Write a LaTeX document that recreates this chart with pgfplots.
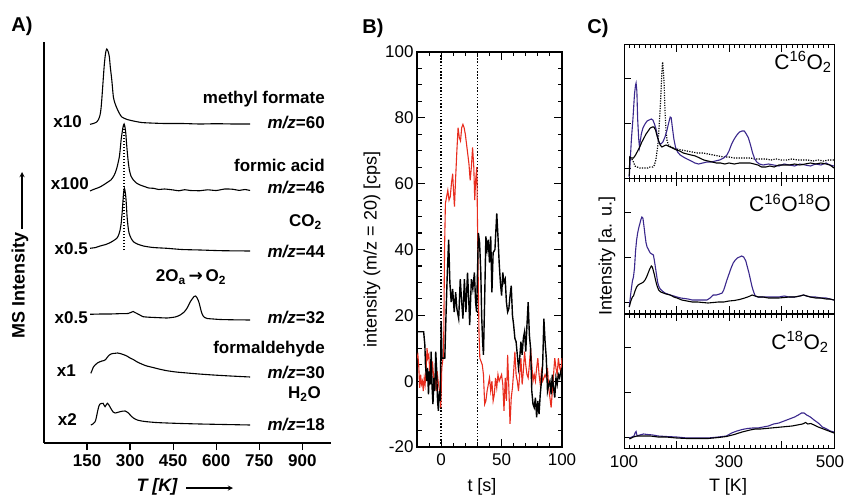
\documentclass[border=0pt]{standalone}
\usepackage{pgfplots}
\pgfplotsset{compat=1.18}
\usepackage{fontspec}
\setmainfont{Liberation Sans}
\newfontfamily\dejavu{DejaVu Sans}
\definecolor{bred}{RGB}{232,45,30}
\definecolor{cblue}{RGB}{58,40,140}
\newcommand\fs[1]{\fontsize{#1}{#1}\selectfont}
\pgfplotsset{
 cpanel/.style={anchor=south west, scale only axis, width=210pt, height=134pt,
   xmin=100, xmax=500, ymin=0, ymax=134,
   xtick={100,200,300,400,500}, minor x tick num=9, xticklabels={},
   ytick={11,56,101}, yticklabels={}, ytick pos=left,
   tick align=inside, major tick length=7pt, minor tick length=3.5pt,
   axis line style={line width=1pt}, tick style={line width=0.9pt,black}},
 atrace/.style={black, no markers, line width=1.1pt, smooth, tension=0.4},
 ctrace/.style={no markers, line width=1.1pt},
}
\begin{document}
\begin{tikzpicture}[x=1pt,y=1pt]
\useasboundingbox (0,0) rectangle (846,499);

% ================= Panel A =================
\begin{axis}[
 at={(44pt,56pt)}, anchor=south west, scale only axis,
 width=287pt, height=401pt,
 xmin=0, xmax=1000, ymin=0, ymax=401,
 axis x line=bottom, axis y line=left,
 axis line style={-, line width=1.3pt},
 xtick={150,300,450,600,750,900}, ytick=\empty,
 xtick align=outside, major tick length=7pt,
 tick style={line width=1.3pt, black},
 x tick label style={font=\bfseries\fs{17}, yshift=-1pt},
 /pgf/number format/assume math mode=true,
 clip=false,
]
% methyl formate x10
\addplot[atrace] coordinates {(160.5,318.7) (172,319.5) (183.8,321) (190,323.5) (195.3,328) (198.5,334) (201.2,343) (204,354) (206.9,366) (210,378) (212.8,386) (215.5,391.5) (218.7,394) (221.5,393) (224.5,390.5) (227.8,386) (231,376) (236.2,363) (241.7,346) (247,340) (253.6,335) (262,330) (271,326) (290,323.5) (311.5,322) (340,320.5) (369.7,320) (420,319.5) (480,319.5) (544,319) (600,319.3) (660,319) (718.5,319)};
% formic acid x100
\addplot[atrace] coordinates {(160.5,252) (172,253.5) (183.8,254.7) (195,256) (206.9,258) (215,259.5) (224.3,261.3) (233,263) (241.7,266.3) (248,270) (253.6,274.7) (258,280) (262.6,286.3) (266,295) (268.6,303) (271.5,309) (274.5,314.7) (277,318) (279.1,319) (281.5,317) (285,309.7) (287.5,300) (290.6,289.7) (294,280) (297.5,273) (303,267) (311.5,263) (322,260) (334.9,258) (350,256.5) (365,255) (381.3,254.7) (400,253.5) (420,254) (451,253) (470,252.2) (490,253.3) (510,252.5) (544,252.3) (570,253.2) (600,252.5) (630,254) (659,253.7) (680,252.6) (700,253.5) (718,252.5)};
% CO2 x0.5
\addplot[atrace] coordinates {(160.5,194.7) (180,195.5) (195.3,197) (215,198.5) (230.2,200.3) (243,202.5) (253.6,204.7) (260,208) (265.1,213) (269,220) (272.1,229.7) (274.5,239) (276.6,248) (278.5,253) (280.1,254.7) (282.5,252) (285,246.3) (287.5,236) (289.5,226.3) (293,216) (296.5,209.7) (303,205) (311.5,201.3) (325,199) (346.4,197) (380,195.5) (428,194.7) (480,193.5) (544,193) (620,192.3) (718.5,192)};
% O2 x0.5
\addplot[atrace] coordinates {(160.5,128.7) (200,129) (230,129) (260,129.3) (293,129.5) (302,130.5) (310.4,131.5) (317,130.5) (324,129.5) (335,127.8) (345.3,126.3) (365,125.8) (387,125.5) (410,125.2) (429,125) (445,125.5) (457,126) (467,127) (474.4,128) (482,129.5) (488.3,131) (494,133) (498.8,135) (504,138) (509.3,141) (516.2,144) (523,146.5) (528.5,147) (533.7,145) (537.5,142.5) (540.7,140) (544,136) (547.6,132) (551,129) (554.6,127) (560,125.5) (568.6,124.5) (590,124) (614,123.5) (660,123.2) (718.5,123)};
% formaldehyde x1
\addplot[atrace] coordinates {(163,69.7) (168,73) (172,76) (178,78) (186,80) (195.3,81.3) (202,82) (209.3,82.5) (215,83.5) (220,85.5) (224.3,87) (228,88) (233.7,89) (240,89.5) (247.7,89.7) (256,90) (265,89.5) (276,88.5) (288.5,87) (300,85) (311,83.5) (323.3,81.3) (340,79) (358,77) (380,75.5) (400,74) (428,72.3) (460,71) (498.8,70) (540,69) (589.5,68) (650,67) (718.5,66)};
% H2O x2
\addplot[atrace] coordinates {(163,18) (170,19) (178,21.3) (182,25) (185.5,30) (189.4,35) (192,37.5) (195.3,39) (200,39.5) (205.8,39.7) (209,38) (212.8,36.3) (216.5,38) (220.8,39.7) (225,38.5) (230.2,36) (235,33.5) (241,31) (247.7,30) (253,30.3) (259,30.8) (265,31.3) (273,31.8) (282.5,32) (288,31.2) (294,30) (302,27.5) (311.5,25) (325,23) (340,22) (358,21.3) (390,20.5) (428,20) (480,19.5) (544,19) (630,18.5) (718.5,18)};
% dotted guide
\addplot[black, no markers, line width=1.4pt, dash pattern=on 1.4pt off 1.6pt] coordinates {(279,193) (279,319)};
\end{axis}

% ================= Panel B =================
\begin{axis}[
 at={(417pt,52pt)}, anchor=south west, scale only axis,
 width=145pt, height=395pt,
 xmin=-20, xmax=100, ymin=-20, ymax=100,
 xtick={0,50,100}, minor xtick={-10,10,20,30,40,60,70,80,90},
 ytick={-20,0,20,40,60,80,100},
 minor ytick={-15,-10,-5,5,10,15,25,30,35,45,50,55,65,70,75,85,90,95},
 tick align=inside, major tick length=8pt, minor tick length=4.5pt,
 axis line style={line width=1.3pt}, tick style={line width=1.1pt, black},
 tick label style={font=\fs{17}},
 x tick label style={yshift=-3pt},
 /pgf/number format/assume math mode=true,
]
\addplot[black, no markers, line width=1.5pt, dash pattern=on 1.5pt off 1.7pt] coordinates {(0,-20) (0,100)};
\addplot[black, no markers, line width=1.5pt, dash pattern=on 1.5pt off 1.7pt] coordinates {(30,-20) (30,100)};
\addplot[bred, no markers, line width=1.1pt] coordinates {(-20,7) (-19.3,8) (-18.6,5) (-17.8,-2) (-17,2) (-16.3,-1) (-15.5,0) (-14.8,-3) (-14,1) (-13.3,-1) (-12.5,3) (-11.7,10) (-11,7) (-10.2,8) (-9.5,3) (-8.7,0) (-8,1) (-7.2,6) (-6.4,2) (-5.6,-1) (-4.8,1) (-4,-3) (-3.3,3) (-2.5,0) (-1.8,-2) (-1,-4) (-0.3,-8) (0.5,4) (1.2,6) (2,8) (2.8,40) (3.5,54) (4.5,56) (5.5,58) (6.5,55) (7.5,56) (8.5,60) (9.5,63) (10.5,56) (11,53) (12,62) (13,70) (14,77) (15,74) (16,73) (17,77) (18,78) (19,77) (20,75) (21,72) (22,69) (23,66) (24,61) (25,65) (26,71) (27,65) (27.8,55) (28.5,61) (29.5,65) (30,50) (30.7,30) (31.3,15) (32,7) (33,6) (34,5) (35,2) (36,-7) (37,-6) (38,-3) (39,-1) (40,1) (41,-3) (42,0) (43,-6) (44,-4) (45,1) (46,-2) (47,2) (48,0) (49,1) (50,2) (51,-1) (52,-9) (53,1) (54,-6) (55,8) (56,-2) (57,-13) (58,-5) (59,-2) (60,3) (61,9) (62,2) (63,0) (64,-3) (65,2) (66,7) (67,-1) (68,3) (69,9) (70,5) (71,2) (72,1) (73,5) (74,10) (75,5) (76,0) (77,2) (78,0) (79,4) (80,7) (81,2) (82,-1) (83,3) (84,0) (85,1) (86,2) (87,1) (88,4) (89,-2) (90,-5) (91,-8) (92,-3) (93,2) (94,7) (95,4) (96,2) (97,7) (98,4) (99,3) (100,7)};
\addplot[black, no markers, line width=1.4pt] coordinates {(-20,15) (-14.5,15) (-13.5,11) (-13,5) (-12,0) (-11.3,4) (-10.5,-4) (-9.8,3) (-9,-1) (-8.3,9) (-7.5,-2) (-6.8,-7) (-6,1) (-5.3,-3) (-4.5,9) (-3.8,4) (-3,-6) (-2.3,-9) (-1.5,-3) (-0.8,-6) (0,18) (0.7,7) (1.5,7) (3,7) (4,20) (5,32) (6.2,43) (7.2,30) (8.3,24) (9.5,28) (10.8,21) (12,27) (13,22) (14.5,19) (15.8,31) (16.8,25) (18,19) (19.2,31) (20.5,21) (21.8,33) (22.8,25) (23.6,17) (25,31) (26.2,28) (27.5,33) (28.5,24) (29.3,21) (30,32) (30.8,45) (31.8,42) (32.8,33) (33.5,20) (34.3,12) (35,8) (36,25) (37,44) (38,40) (39,43) (40,36) (41,44) (42,27) (43,39) (44.5,40) (46,51) (47,44) (48,36) (49,30) (50,26) (51,33) (52,30) (53,31) (54,24) (55,21) (56,22) (57,26) (58,29) (59,20) (60,17) (61,13) (62,12) (63,8) (64,4) (65,7) (66,12) (67,8) (68,13) (69,15) (70,9) (71,17) (72,24) (73,14) (74,10) (75,-3) (76,-7) (77,-8) (78,-5) (79,-11) (80,-6) (81,-10) (82,-4) (83,0) (84,5) (85,19) (86,12) (87,7) (88,-3) (89,-1) (90,0) (91,-4) (92,2) (93,-2) (94,-5) (95,1) (96,-1) (97,2) (98,1) (99,3) (100,4)};
\end{axis}

% ================= Panel C =================
\begin{axis}[cpanel, at={(624pt,320pt)}]
\addplot[ctrace, black, line width=1.2pt, dash pattern=on 1.2pt off 1.3pt] coordinates {(115,20) (118,17) (121,13) (125,12) (130,11) (135,11) (140,11) (145,11) (150,12) (155,12) (158,14) (161,20) (164,32) (166,45) (168,62) (170,82) (172,105) (173.5,117) (175,108) (176.5,95) (178,70) (180,48) (182,38) (185,34) (190,32) (195,31) (200,30) (210,29) (220,28) (230,27) (240,26) (250,26) (260,25) (270,24) (280,23) (290,22) (300,22) (310,21) (320,21) (330,21) (340,21) (350,20) (360,20) (370,20) (380,19) (390,20) (400,19) (410,19) (420,20) (430,19) (440,19) (450,19) (460,18) (470,19) (480,18) (490,19) (500,19)};
\addplot[ctrace, cblue] coordinates {(110,2) (112,20) (114,39) (117,60) (120,85) (122,94) (123,96) (124.5,88) (126,60) (128,40) (129.5,32) (131,38) (133,45) (136,51) (140,55) (144,58) (148,59) (152,60) (155,59) (158,55) (161,50) (164,42) (167,36) (170,35) (174,37) (178,42) (182,49) (185,56) (188,62) (190,61) (192,52) (195,40) (198,32) (202,27) (207,24) (213,22) (220,20) (228,18) (235,16) (242,15) (250,16) (258,17) (266,17) (274,18) (282,19) (290,21) (296,24) (300,28) (305,35) (310,40) (315,44) (320,47) (325,48) (329,48) (333,45) (337,41) (341,34) (345,26) (349,20) (353,17) (358,15) (365,14) (375,15) (385,14) (395,13) (405,15) (415,14) (425,13) (435,15) (445,14) (455,13) (465,15) (475,14) (485,16) (492,14) (500,13)};
\addplot[ctrace, black] coordinates {(110,3) (111,22) (114,21) (118,21) (122,24) (126,28) (130,32) (134,37) (138,41) (142,45) (146,48) (150,51) (154,52) (157,52) (160,49) (163,43) (166,38) (169,34) (172,32) (176,33) (180,34) (184,33) (188,32) (192,31) (196,30) (200,29) (206,28) (213,26) (220,25) (228,24) (236,23) (244,21) (252,19) (260,18) (268,17) (276,16) (284,16) (292,15) (300,16) (310,15) (320,16) (330,16) (340,16) (348,15) (355,14) (362,12) (370,12) (378,13) (386,12) (395,14) (405,14) (415,14) (425,15) (435,14) (445,15) (455,16) (465,15) (475,16) (485,15) (492,14) (500,11)};
\end{axis}

\begin{axis}[cpanel, at={(624pt,186pt)}]
\addplot[ctrace, cblue] coordinates {(110,6) (113,20) (116,32) (118,36) (120,45) (122,62) (124,73) (126,80) (128,85) (130,89) (132,93) (134,96) (136,95) (138,87) (140,78) (142,70) (144,66) (147,63) (150,60) (153,59) (156,58) (158,52) (160,45) (162,38) (164,31) (166,27) (169,24) (173,22) (178,20) (183,19) (188,18) (195,17) (201,16) (208,15) (215,14.5) (222,14) (230,13) (240,13) (250,13) (258,13) (264,15) (270,18) (276,18) (282,19) (287,20) (290,23) (293,28) (296,33) (300,39) (304,45) (308,50) (312,53) (316,55) (320,56) (324,57) (328,56) (332,52) (335,46) (338,40) (341,33) (344,26) (347,21) (350,17) (355,16) (365,16) (375,16) (385,16) (395,16) (405,17) (415,16) (425,16) (435,17) (442,18) (448,17) (455,16) (465,16) (475,15) (485,15) (492,14) (500,13)};
\addplot[ctrace, black] coordinates {(110,6) (113,12) (116,16) (118,17) (121,22) (124,26) (127,28) (130,29) (134,30) (137,31) (140,33) (143,36) (146,40) (149,44) (152,47) (154,46) (156,42) (158,38) (160,33) (163,27) (166,23) (170,21) (175,20) (180,19) (188,18) (195,16) (201,15) (210,13) (220,12) (230,11) (240,11) (250,10.5) (260,10) (270,10.5) (280,11) (290,11) (300,12) (310,12.5) (320,13.5) (330,15) (338,16.5) (344,18) (350,17) (356,16) (365,16) (375,15) (385,15) (395,15) (405,15.5) (415,16) (425,16) (435,17) (442,18) (448,17) (455,16) (465,15) (475,15) (485,14) (492,14) (500,13)};
\end{axis}

\begin{axis}[cpanel, at={(624pt,51pt)}, xticklabels={100,,300,,\hspace{-8pt}500},
 x tick label style={font=\fs{17}, yshift=-4pt}, /pgf/number format/assume math mode=true]
\addplot[ctrace, cblue] coordinates {(110,10) (115,11) (119,12) (121,15) (123,16.5) (125,12) (130,13) (137,14) (145,13.5) (155,13) (165,12) (180,11.5) (200,11) (220,10) (240,10) (260,10) (280,11) (295,12) (305,15) (315,17) (325,18.5) (335,19.5) (345,20) (355,20) (365,21) (375,22) (385,24) (395,25) (405,27) (415,29) (425,31) (432,33) (438,35) (443,35) (448,33) (455,31) (462,28) (470,25) (478,21) (486,19) (493,17) (500,16)};
\addplot[ctrace, black] coordinates {(110,9) (118,11) (125,12) (135,12) (150,12) (165,11) (180,11) (200,10) (220,9.5) (240,9.5) (260,9.5) (280,10.5) (295,11.5) (310,13.5) (325,16) (340,18) (350,19) (360,19) (370,19.5) (380,20) (390,20.5) (400,21) (410,21.5) (420,22) (430,23) (440,24) (446,25.5) (450,24) (456,24.5) (462,23) (470,21) (480,19) (490,17) (500,15)};
\end{axis}

% ================= Text =================
\node[font=\bfseries\fs{20}] at (22,473) {A)};
\node[font=\bfseries\fs{20}] at (373,471) {B)};
\node[font=\bfseries\fs{20}] at (598,471) {C)};

% panel A labels
\begin{scope}[every node/.style={font=\bfseries\fs{17}, inner sep=0pt}]
\node[anchor=east] at (82,377) {x10};
\node[anchor=east] at (89,315) {x100};
\node[anchor=east] at (88,250) {x0.5};
\node[anchor=east] at (88,181) {x0.5};
\node[anchor=east] at (76,128) {x1};
\node[anchor=east] at (77,79) {x2};
\node[anchor=east] at (325,400) {methyl formate};
\node[anchor=east] at (325,376) {\itshape m/z\upshape =60};
\node[anchor=east] at (325,334) {formic acid};
\node[anchor=east] at (325,311) {\itshape m/z\upshape =46};
\node[anchor=east] at (322,277) {CO\textsubscript{2}};
\node[anchor=east] at (325,247) {\itshape m/z\upshape =44};
\node at (191,222) {2O\textsubscript{a}\,{\dejavu\bfseries →}\,O\textsubscript{2}};
\node[anchor=east] at (325,181) {\itshape m/z\upshape =32};
\node[anchor=east] at (325,150) {formaldehyde};
\node[anchor=east] at (325,126) {\itshape m/z\upshape =30};
\node[anchor=east] at (321,105) {H\textsubscript{2}O};
\node[anchor=east] at (325,74) {\itshape m/z\upshape =18};
\node[rotate=90, font=\bfseries\fs{18}] at (20,214) {MS Intensity};
\node[font=\bfseries\itshape\fs{18}] at (157,12) {T [K]};
\end{scope}
\draw[-stealth, line width=1.3pt] (22,270) -- (22,327);
\draw[-stealth, line width=1.3pt] (186,11) -- (233,11);

% panel B labels
\node[rotate=90, font=\fs{18}] at (372,249.5) {intensity (m/z = 20) [cps]};
\node[font=\fs{18}] at (482,12) {t [s]};

% panel C labels
\node[rotate=90, font=\fs{18}] at (607,243) {Intensity [a. u.]};
\node[font=\fs{18}] at (728,12) {T [K]};
\node[font=\fs{21}] at (803,437) {C\textsuperscript{16}O\textsubscript{2}};
\node[font=\fs{21}] at (790,296) {C\textsuperscript{16}O\textsuperscript{18}O};
\node[font=\fs{21}] at (800,157) {C\textsuperscript{18}O\textsubscript{2}};
\end{tikzpicture}
\end{document}
